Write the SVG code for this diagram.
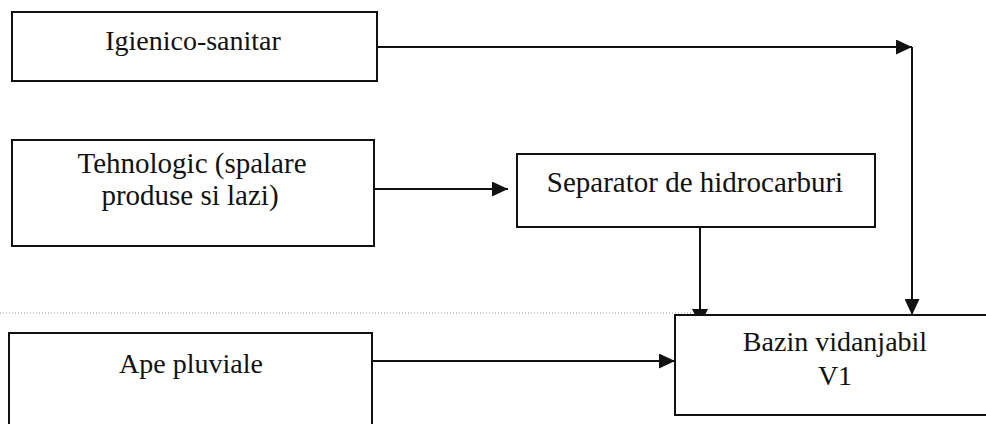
<svg xmlns="http://www.w3.org/2000/svg" width="986" height="424" viewBox="0 0 986 424">
<style>
.box{fill:#fff;stroke:#111;stroke-width:2}
.lbl{font-family:'Liberation Serif','DejaVu Serif',serif;font-size:28px;fill:#111;text-anchor:middle}
.big{font-size:29px}
.con{fill:none;stroke:#111;stroke-width:2}
</style>
<defs>
<marker id="ah" markerUnits="userSpaceOnUse" markerWidth="16" markerHeight="15" refX="16" refY="7.5" orient="auto">
<path d="M0,0 L16,7.5 L0,15 Z" fill="#111"/>
</marker>
<marker id="ahs" markerUnits="userSpaceOnUse" markerWidth="6" markerHeight="16" refX="6" refY="8" orient="auto">
<path d="M0,0 L6,3 L6,13 L0,16 Z" fill="#111"/>
</marker>
</defs>
<rect width="986" height="424" fill="#fff"/>
<line x1="0" y1="313" x2="692" y2="313" stroke="#999" stroke-width="1" stroke-dasharray="1 2"/>
<g id="n-igienico">
<rect class="box" x="12" y="12" width="365" height="69"/>
<text class="lbl" x="193" y="50">Igienico-sanitar</text>
</g>
<g id="n-tehnologic">
<rect class="box" x="12" y="140" width="362" height="106"/>
<text class="lbl big" x="192" y="173">Tehnologic (spalare</text>
<text class="lbl big" x="190" y="205">produse si lazi)</text>
</g>
<g id="n-separator">
<rect class="box" x="517" y="154" width="358" height="73"/>
<text class="lbl big" x="695" y="192">Separator de hidrocarburi</text>
</g>
<g id="n-ape">
<rect class="box" x="9" y="333" width="363" height="100"/>
<text class="lbl" x="191" y="373">Ape pluviale</text>
</g>
<g id="n-bazin">
<rect class="box" x="675" y="315" width="330" height="100"/>
<text class="lbl" x="835" y="351">Bazin vidanjabil</text>
<text class="lbl" x="835" y="385">V1</text>
</g>
<g id="connectors">
<path class="con" d="M377,47 H912" marker-end="url(#ah)"/>
<path class="con" d="M912,47 V315" marker-end="url(#ah)"/>
<path class="con" d="M374,189 H508" marker-end="url(#ah)"/>
<path class="con" d="M700,228 V315" marker-end="url(#ahs)"/>
<path class="con" d="M372,361 H675" marker-end="url(#ah)"/>
</g>
</svg>
